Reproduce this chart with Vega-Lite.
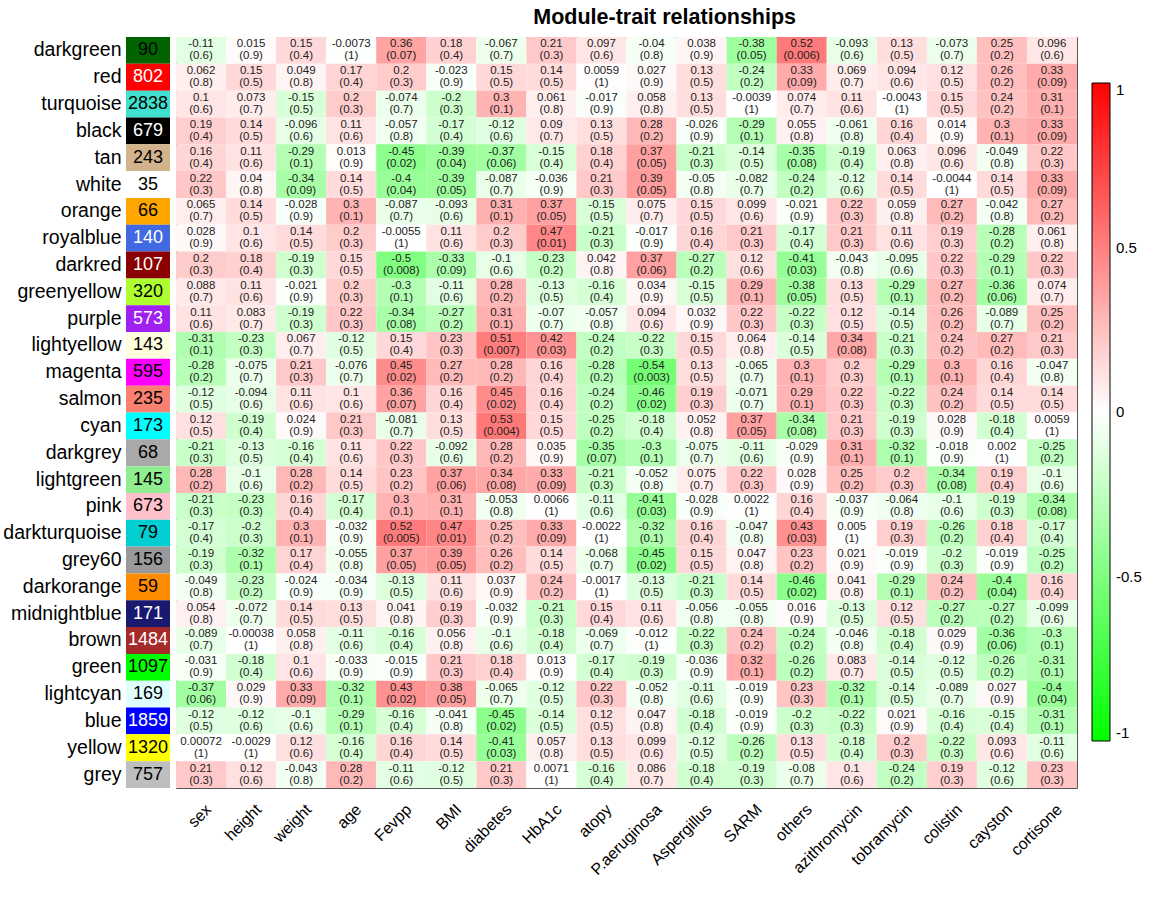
{
"$schema": "https://vega.github.io/schema/vega-lite/v6.json",
"background": "white",
"padding": {"left": 2, "top": 7, "right": 5, "bottom": 5},
"title": {"text": "Module-trait relationships", "fontSize": 21.5, "fontWeight": "bold", "font": "Liberation Sans", "anchor": "middle", "offset": 8, "dx": 92, "color": "black"},
"config": {"concat": {"spacing": 5}, "view": {"stroke": null}},
"datasets": {
"modules": [
{"module":"darkgreen","n":90},{"module":"red","n":802},{"module":"turquoise","n":2838},{"module":"black","n":679},{"module":"tan","n":243},{"module":"white","n":35},{"module":"orange","n":66},{"module":"royalblue","n":140},{"module":"darkred","n":107},{"module":"greenyellow","n":320},{"module":"purple","n":573},{"module":"lightyellow","n":143},{"module":"magenta","n":595},{"module":"salmon","n":235},{"module":"cyan","n":173},{"module":"darkgrey","n":68},{"module":"lightgreen","n":145},{"module":"pink","n":673},{"module":"darkturquoise","n":79},{"module":"grey60","n":156},{"module":"darkorange","n":59},{"module":"midnightblue","n":171},{"module":"brown","n":1484},{"module":"green","n":1097},{"module":"lightcyan","n":169},{"module":"blue","n":1859},{"module":"yellow","n":1320},{"module":"grey","n":757}
],
"cells": [
{"module":"darkgreen","trait":"sex","r":-0.11,"p":0.6},{"module":"darkgreen","trait":"height","r":0.015,"p":0.9},{"module":"darkgreen","trait":"weight","r":0.15,"p":0.4},{"module":"darkgreen","trait":"age","r":-0.0073,"p":1},{"module":"darkgreen","trait":"Fevpp","r":0.36,"p":0.07},{"module":"darkgreen","trait":"BMI","r":0.18,"p":0.4},{"module":"darkgreen","trait":"diabetes","r":-0.067,"p":0.7},{"module":"darkgreen","trait":"HbA1c","r":0.21,"p":0.3},{"module":"darkgreen","trait":"atopy","r":0.097,"p":0.6},{"module":"darkgreen","trait":"P.aeruginosa","r":-0.04,"p":0.8},{"module":"darkgreen","trait":"Aspergillus","r":0.038,"p":0.9},{"module":"darkgreen","trait":"SARM","r":-0.38,"p":0.05},{"module":"darkgreen","trait":"others","r":0.52,"p":0.006},{"module":"darkgreen","trait":"azithromycin","r":-0.093,"p":0.6},{"module":"darkgreen","trait":"tobramycin","r":0.13,"p":0.5},{"module":"darkgreen","trait":"colistin","r":-0.073,"p":0.7},{"module":"darkgreen","trait":"cayston","r":0.25,"p":0.2},{"module":"darkgreen","trait":"cortisone","r":0.096,"p":0.6},
{"module":"red","trait":"sex","r":0.062,"p":0.8},{"module":"red","trait":"height","r":0.15,"p":0.5},{"module":"red","trait":"weight","r":0.049,"p":0.8},{"module":"red","trait":"age","r":0.17,"p":0.4},{"module":"red","trait":"Fevpp","r":0.2,"p":0.3},{"module":"red","trait":"BMI","r":-0.023,"p":0.9},{"module":"red","trait":"diabetes","r":0.15,"p":0.5},{"module":"red","trait":"HbA1c","r":0.14,"p":0.5},{"module":"red","trait":"atopy","r":0.0059,"p":1},{"module":"red","trait":"P.aeruginosa","r":0.027,"p":0.9},{"module":"red","trait":"Aspergillus","r":0.13,"p":0.5},{"module":"red","trait":"SARM","r":-0.24,"p":0.2},{"module":"red","trait":"others","r":0.33,"p":0.09},{"module":"red","trait":"azithromycin","r":0.069,"p":0.7},{"module":"red","trait":"tobramycin","r":0.094,"p":0.6},{"module":"red","trait":"colistin","r":0.12,"p":0.5},{"module":"red","trait":"cayston","r":0.26,"p":0.2},{"module":"red","trait":"cortisone","r":0.33,"p":0.09},
{"module":"turquoise","trait":"sex","r":0.1,"p":0.6},{"module":"turquoise","trait":"height","r":0.073,"p":0.7},{"module":"turquoise","trait":"weight","r":-0.15,"p":0.5},{"module":"turquoise","trait":"age","r":0.2,"p":0.3},{"module":"turquoise","trait":"Fevpp","r":-0.074,"p":0.7},{"module":"turquoise","trait":"BMI","r":-0.2,"p":0.3},{"module":"turquoise","trait":"diabetes","r":0.3,"p":0.1},{"module":"turquoise","trait":"HbA1c","r":0.061,"p":0.8},{"module":"turquoise","trait":"atopy","r":-0.017,"p":0.9},{"module":"turquoise","trait":"P.aeruginosa","r":0.058,"p":0.8},{"module":"turquoise","trait":"Aspergillus","r":0.13,"p":0.5},{"module":"turquoise","trait":"SARM","r":-0.0039,"p":1},{"module":"turquoise","trait":"others","r":0.074,"p":0.7},{"module":"turquoise","trait":"azithromycin","r":0.11,"p":0.6},{"module":"turquoise","trait":"tobramycin","r":-0.0043,"p":1},{"module":"turquoise","trait":"colistin","r":0.15,"p":0.5},{"module":"turquoise","trait":"cayston","r":0.24,"p":0.2},{"module":"turquoise","trait":"cortisone","r":0.31,"p":0.1},
{"module":"black","trait":"sex","r":0.19,"p":0.4},{"module":"black","trait":"height","r":0.14,"p":0.5},{"module":"black","trait":"weight","r":-0.096,"p":0.6},{"module":"black","trait":"age","r":0.11,"p":0.6},{"module":"black","trait":"Fevpp","r":-0.057,"p":0.8},{"module":"black","trait":"BMI","r":-0.17,"p":0.4},{"module":"black","trait":"diabetes","r":-0.12,"p":0.6},{"module":"black","trait":"HbA1c","r":0.09,"p":0.7},{"module":"black","trait":"atopy","r":0.13,"p":0.5},{"module":"black","trait":"P.aeruginosa","r":0.28,"p":0.2},{"module":"black","trait":"Aspergillus","r":-0.026,"p":0.9},{"module":"black","trait":"SARM","r":-0.29,"p":0.1},{"module":"black","trait":"others","r":0.055,"p":0.8},{"module":"black","trait":"azithromycin","r":-0.061,"p":0.8},{"module":"black","trait":"tobramycin","r":0.16,"p":0.4},{"module":"black","trait":"colistin","r":0.014,"p":0.9},{"module":"black","trait":"cayston","r":0.3,"p":0.1},{"module":"black","trait":"cortisone","r":0.33,"p":0.09},
{"module":"tan","trait":"sex","r":0.16,"p":0.4},{"module":"tan","trait":"height","r":0.11,"p":0.6},{"module":"tan","trait":"weight","r":-0.29,"p":0.1},{"module":"tan","trait":"age","r":0.013,"p":0.9},{"module":"tan","trait":"Fevpp","r":-0.45,"p":0.02},{"module":"tan","trait":"BMI","r":-0.39,"p":0.04},{"module":"tan","trait":"diabetes","r":-0.37,"p":0.06},{"module":"tan","trait":"HbA1c","r":-0.15,"p":0.4},{"module":"tan","trait":"atopy","r":0.18,"p":0.4},{"module":"tan","trait":"P.aeruginosa","r":0.37,"p":0.05},{"module":"tan","trait":"Aspergillus","r":-0.21,"p":0.3},{"module":"tan","trait":"SARM","r":-0.14,"p":0.5},{"module":"tan","trait":"others","r":-0.35,"p":0.08},{"module":"tan","trait":"azithromycin","r":-0.19,"p":0.4},{"module":"tan","trait":"tobramycin","r":0.063,"p":0.8},{"module":"tan","trait":"colistin","r":0.096,"p":0.6},{"module":"tan","trait":"cayston","r":-0.049,"p":0.8},{"module":"tan","trait":"cortisone","r":0.22,"p":0.3},
{"module":"white","trait":"sex","r":0.22,"p":0.3},{"module":"white","trait":"height","r":0.04,"p":0.8},{"module":"white","trait":"weight","r":-0.34,"p":0.09},{"module":"white","trait":"age","r":0.14,"p":0.5},{"module":"white","trait":"Fevpp","r":-0.4,"p":0.04},{"module":"white","trait":"BMI","r":-0.39,"p":0.05},{"module":"white","trait":"diabetes","r":-0.087,"p":0.7},{"module":"white","trait":"HbA1c","r":-0.036,"p":0.9},{"module":"white","trait":"atopy","r":0.21,"p":0.3},{"module":"white","trait":"P.aeruginosa","r":0.39,"p":0.05},{"module":"white","trait":"Aspergillus","r":-0.05,"p":0.8},{"module":"white","trait":"SARM","r":-0.082,"p":0.7},{"module":"white","trait":"others","r":-0.24,"p":0.2},{"module":"white","trait":"azithromycin","r":-0.12,"p":0.6},{"module":"white","trait":"tobramycin","r":0.14,"p":0.5},{"module":"white","trait":"colistin","r":-0.0044,"p":1},{"module":"white","trait":"cayston","r":0.14,"p":0.5},{"module":"white","trait":"cortisone","r":0.33,"p":0.09},
{"module":"orange","trait":"sex","r":0.065,"p":0.7},{"module":"orange","trait":"height","r":0.14,"p":0.5},{"module":"orange","trait":"weight","r":-0.028,"p":0.9},{"module":"orange","trait":"age","r":0.3,"p":0.1},{"module":"orange","trait":"Fevpp","r":-0.087,"p":0.7},{"module":"orange","trait":"BMI","r":-0.093,"p":0.6},{"module":"orange","trait":"diabetes","r":0.31,"p":0.1},{"module":"orange","trait":"HbA1c","r":0.37,"p":0.05},{"module":"orange","trait":"atopy","r":-0.15,"p":0.5},{"module":"orange","trait":"P.aeruginosa","r":0.075,"p":0.7},{"module":"orange","trait":"Aspergillus","r":0.15,"p":0.5},{"module":"orange","trait":"SARM","r":0.099,"p":0.6},{"module":"orange","trait":"others","r":-0.021,"p":0.9},{"module":"orange","trait":"azithromycin","r":0.22,"p":0.3},{"module":"orange","trait":"tobramycin","r":0.059,"p":0.8},{"module":"orange","trait":"colistin","r":0.27,"p":0.2},{"module":"orange","trait":"cayston","r":-0.042,"p":0.8},{"module":"orange","trait":"cortisone","r":0.27,"p":0.2},
{"module":"royalblue","trait":"sex","r":0.028,"p":0.9},{"module":"royalblue","trait":"height","r":0.1,"p":0.6},{"module":"royalblue","trait":"weight","r":0.14,"p":0.5},{"module":"royalblue","trait":"age","r":0.2,"p":0.3},{"module":"royalblue","trait":"Fevpp","r":-0.0055,"p":1},{"module":"royalblue","trait":"BMI","r":0.11,"p":0.6},{"module":"royalblue","trait":"diabetes","r":0.2,"p":0.3},{"module":"royalblue","trait":"HbA1c","r":0.47,"p":0.01},{"module":"royalblue","trait":"atopy","r":-0.21,"p":0.3},{"module":"royalblue","trait":"P.aeruginosa","r":-0.017,"p":0.9},{"module":"royalblue","trait":"Aspergillus","r":0.16,"p":0.4},{"module":"royalblue","trait":"SARM","r":0.21,"p":0.3},{"module":"royalblue","trait":"others","r":-0.17,"p":0.4},{"module":"royalblue","trait":"azithromycin","r":0.21,"p":0.3},{"module":"royalblue","trait":"tobramycin","r":0.11,"p":0.6},{"module":"royalblue","trait":"colistin","r":0.19,"p":0.3},{"module":"royalblue","trait":"cayston","r":-0.28,"p":0.2},{"module":"royalblue","trait":"cortisone","r":0.061,"p":0.8},
{"module":"darkred","trait":"sex","r":0.2,"p":0.3},{"module":"darkred","trait":"height","r":0.18,"p":0.4},{"module":"darkred","trait":"weight","r":-0.19,"p":0.3},{"module":"darkred","trait":"age","r":0.15,"p":0.5},{"module":"darkred","trait":"Fevpp","r":-0.5,"p":0.008},{"module":"darkred","trait":"BMI","r":-0.33,"p":0.09},{"module":"darkred","trait":"diabetes","r":-0.1,"p":0.6},{"module":"darkred","trait":"HbA1c","r":-0.23,"p":0.2},{"module":"darkred","trait":"atopy","r":0.042,"p":0.8},{"module":"darkred","trait":"P.aeruginosa","r":0.37,"p":0.06},{"module":"darkred","trait":"Aspergillus","r":-0.27,"p":0.2},{"module":"darkred","trait":"SARM","r":0.12,"p":0.6},{"module":"darkred","trait":"others","r":-0.41,"p":0.03},{"module":"darkred","trait":"azithromycin","r":-0.043,"p":0.8},{"module":"darkred","trait":"tobramycin","r":-0.095,"p":0.6},{"module":"darkred","trait":"colistin","r":0.22,"p":0.3},{"module":"darkred","trait":"cayston","r":-0.29,"p":0.1},{"module":"darkred","trait":"cortisone","r":0.22,"p":0.3},
{"module":"greenyellow","trait":"sex","r":0.088,"p":0.7},{"module":"greenyellow","trait":"height","r":0.11,"p":0.6},{"module":"greenyellow","trait":"weight","r":-0.021,"p":0.9},{"module":"greenyellow","trait":"age","r":0.2,"p":0.3},{"module":"greenyellow","trait":"Fevpp","r":-0.3,"p":0.1},{"module":"greenyellow","trait":"BMI","r":-0.11,"p":0.6},{"module":"greenyellow","trait":"diabetes","r":0.28,"p":0.2},{"module":"greenyellow","trait":"HbA1c","r":-0.13,"p":0.5},{"module":"greenyellow","trait":"atopy","r":-0.16,"p":0.4},{"module":"greenyellow","trait":"P.aeruginosa","r":0.034,"p":0.9},{"module":"greenyellow","trait":"Aspergillus","r":-0.15,"p":0.5},{"module":"greenyellow","trait":"SARM","r":0.29,"p":0.1},{"module":"greenyellow","trait":"others","r":-0.38,"p":0.05},{"module":"greenyellow","trait":"azithromycin","r":0.13,"p":0.5},{"module":"greenyellow","trait":"tobramycin","r":-0.29,"p":0.1},{"module":"greenyellow","trait":"colistin","r":0.27,"p":0.2},{"module":"greenyellow","trait":"cayston","r":-0.36,"p":0.06},{"module":"greenyellow","trait":"cortisone","r":0.074,"p":0.7},
{"module":"purple","trait":"sex","r":0.11,"p":0.6},{"module":"purple","trait":"height","r":0.083,"p":0.7},{"module":"purple","trait":"weight","r":-0.19,"p":0.3},{"module":"purple","trait":"age","r":0.22,"p":0.3},{"module":"purple","trait":"Fevpp","r":-0.34,"p":0.08},{"module":"purple","trait":"BMI","r":-0.27,"p":0.2},{"module":"purple","trait":"diabetes","r":0.31,"p":0.1},{"module":"purple","trait":"HbA1c","r":-0.07,"p":0.7},{"module":"purple","trait":"atopy","r":-0.057,"p":0.8},{"module":"purple","trait":"P.aeruginosa","r":0.094,"p":0.6},{"module":"purple","trait":"Aspergillus","r":0.032,"p":0.9},{"module":"purple","trait":"SARM","r":0.22,"p":0.3},{"module":"purple","trait":"others","r":-0.22,"p":0.3},{"module":"purple","trait":"azithromycin","r":0.12,"p":0.5},{"module":"purple","trait":"tobramycin","r":-0.14,"p":0.5},{"module":"purple","trait":"colistin","r":0.26,"p":0.2},{"module":"purple","trait":"cayston","r":-0.089,"p":0.7},{"module":"purple","trait":"cortisone","r":0.25,"p":0.2},
{"module":"lightyellow","trait":"sex","r":-0.31,"p":0.1},{"module":"lightyellow","trait":"height","r":-0.23,"p":0.3},{"module":"lightyellow","trait":"weight","r":0.067,"p":0.7},{"module":"lightyellow","trait":"age","r":-0.12,"p":0.5},{"module":"lightyellow","trait":"Fevpp","r":0.15,"p":0.4},{"module":"lightyellow","trait":"BMI","r":0.23,"p":0.3},{"module":"lightyellow","trait":"diabetes","r":0.51,"p":0.007},{"module":"lightyellow","trait":"HbA1c","r":0.42,"p":0.03},{"module":"lightyellow","trait":"atopy","r":-0.24,"p":0.2},{"module":"lightyellow","trait":"P.aeruginosa","r":-0.22,"p":0.3},{"module":"lightyellow","trait":"Aspergillus","r":0.15,"p":0.5},{"module":"lightyellow","trait":"SARM","r":0.064,"p":0.8},{"module":"lightyellow","trait":"others","r":-0.14,"p":0.5},{"module":"lightyellow","trait":"azithromycin","r":0.34,"p":0.08},{"module":"lightyellow","trait":"tobramycin","r":-0.21,"p":0.3},{"module":"lightyellow","trait":"colistin","r":0.24,"p":0.2},{"module":"lightyellow","trait":"cayston","r":0.27,"p":0.2},{"module":"lightyellow","trait":"cortisone","r":0.21,"p":0.3},
{"module":"magenta","trait":"sex","r":-0.28,"p":0.2},{"module":"magenta","trait":"height","r":-0.075,"p":0.7},{"module":"magenta","trait":"weight","r":0.21,"p":0.3},{"module":"magenta","trait":"age","r":-0.076,"p":0.7},{"module":"magenta","trait":"Fevpp","r":0.45,"p":0.02},{"module":"magenta","trait":"BMI","r":0.27,"p":0.2},{"module":"magenta","trait":"diabetes","r":0.28,"p":0.2},{"module":"magenta","trait":"HbA1c","r":0.16,"p":0.4},{"module":"magenta","trait":"atopy","r":-0.28,"p":0.2},{"module":"magenta","trait":"P.aeruginosa","r":-0.54,"p":0.003},{"module":"magenta","trait":"Aspergillus","r":0.13,"p":0.5},{"module":"magenta","trait":"SARM","r":-0.065,"p":0.7},{"module":"magenta","trait":"others","r":0.3,"p":0.1},{"module":"magenta","trait":"azithromycin","r":0.2,"p":0.3},{"module":"magenta","trait":"tobramycin","r":-0.29,"p":0.1},{"module":"magenta","trait":"colistin","r":0.3,"p":0.1},{"module":"magenta","trait":"cayston","r":0.16,"p":0.4},{"module":"magenta","trait":"cortisone","r":-0.047,"p":0.8},
{"module":"salmon","trait":"sex","r":-0.12,"p":0.5},{"module":"salmon","trait":"height","r":-0.094,"p":0.6},{"module":"salmon","trait":"weight","r":0.11,"p":0.6},{"module":"salmon","trait":"age","r":0.1,"p":0.6},{"module":"salmon","trait":"Fevpp","r":0.36,"p":0.07},{"module":"salmon","trait":"BMI","r":0.16,"p":0.4},{"module":"salmon","trait":"diabetes","r":0.45,"p":0.02},{"module":"salmon","trait":"HbA1c","r":0.16,"p":0.4},{"module":"salmon","trait":"atopy","r":-0.24,"p":0.2},{"module":"salmon","trait":"P.aeruginosa","r":-0.46,"p":0.02},{"module":"salmon","trait":"Aspergillus","r":0.19,"p":0.3},{"module":"salmon","trait":"SARM","r":-0.071,"p":0.7},{"module":"salmon","trait":"others","r":0.29,"p":0.1},{"module":"salmon","trait":"azithromycin","r":0.22,"p":0.3},{"module":"salmon","trait":"tobramycin","r":-0.22,"p":0.3},{"module":"salmon","trait":"colistin","r":0.24,"p":0.2},{"module":"salmon","trait":"cayston","r":0.14,"p":0.5},{"module":"salmon","trait":"cortisone","r":0.14,"p":0.5},
{"module":"cyan","trait":"sex","r":0.12,"p":0.5},{"module":"cyan","trait":"height","r":-0.19,"p":0.4},{"module":"cyan","trait":"weight","r":0.024,"p":0.9},{"module":"cyan","trait":"age","r":0.21,"p":0.3},{"module":"cyan","trait":"Fevpp","r":-0.081,"p":0.7},{"module":"cyan","trait":"BMI","r":0.13,"p":0.5},{"module":"cyan","trait":"diabetes","r":0.53,"p":0.004},{"module":"cyan","trait":"HbA1c","r":0.15,"p":0.5},{"module":"cyan","trait":"atopy","r":-0.25,"p":0.2},{"module":"cyan","trait":"P.aeruginosa","r":-0.18,"p":0.4},{"module":"cyan","trait":"Aspergillus","r":0.052,"p":0.8},{"module":"cyan","trait":"SARM","r":0.37,"p":0.05},{"module":"cyan","trait":"others","r":-0.34,"p":0.08},{"module":"cyan","trait":"azithromycin","r":0.21,"p":0.3},{"module":"cyan","trait":"tobramycin","r":-0.19,"p":0.3},{"module":"cyan","trait":"colistin","r":0.028,"p":0.9},{"module":"cyan","trait":"cayston","r":-0.18,"p":0.4},{"module":"cyan","trait":"cortisone","r":0.0059,"p":1},
{"module":"darkgrey","trait":"sex","r":-0.21,"p":0.3},{"module":"darkgrey","trait":"height","r":-0.13,"p":0.5},{"module":"darkgrey","trait":"weight","r":-0.16,"p":0.4},{"module":"darkgrey","trait":"age","r":0.11,"p":0.6},{"module":"darkgrey","trait":"Fevpp","r":0.22,"p":0.3},{"module":"darkgrey","trait":"BMI","r":-0.092,"p":0.6},{"module":"darkgrey","trait":"diabetes","r":0.28,"p":0.2},{"module":"darkgrey","trait":"HbA1c","r":0.035,"p":0.9},{"module":"darkgrey","trait":"atopy","r":-0.35,"p":0.07},{"module":"darkgrey","trait":"P.aeruginosa","r":-0.3,"p":0.1},{"module":"darkgrey","trait":"Aspergillus","r":-0.075,"p":0.7},{"module":"darkgrey","trait":"SARM","r":-0.11,"p":0.6},{"module":"darkgrey","trait":"others","r":-0.029,"p":0.9},{"module":"darkgrey","trait":"azithromycin","r":0.31,"p":0.1},{"module":"darkgrey","trait":"tobramycin","r":-0.32,"p":0.1},{"module":"darkgrey","trait":"colistin","r":-0.018,"p":0.9},{"module":"darkgrey","trait":"cayston","r":0.002,"p":1},{"module":"darkgrey","trait":"cortisone","r":-0.25,"p":0.2},
{"module":"lightgreen","trait":"sex","r":0.28,"p":0.2},{"module":"lightgreen","trait":"height","r":-0.1,"p":0.6},{"module":"lightgreen","trait":"weight","r":0.28,"p":0.2},{"module":"lightgreen","trait":"age","r":0.14,"p":0.5},{"module":"lightgreen","trait":"Fevpp","r":0.23,"p":0.2},{"module":"lightgreen","trait":"BMI","r":0.37,"p":0.06},{"module":"lightgreen","trait":"diabetes","r":0.34,"p":0.08},{"module":"lightgreen","trait":"HbA1c","r":0.33,"p":0.09},{"module":"lightgreen","trait":"atopy","r":-0.21,"p":0.3},{"module":"lightgreen","trait":"P.aeruginosa","r":-0.052,"p":0.8},{"module":"lightgreen","trait":"Aspergillus","r":0.075,"p":0.7},{"module":"lightgreen","trait":"SARM","r":0.22,"p":0.3},{"module":"lightgreen","trait":"others","r":0.028,"p":0.9},{"module":"lightgreen","trait":"azithromycin","r":0.25,"p":0.2},{"module":"lightgreen","trait":"tobramycin","r":0.2,"p":0.3},{"module":"lightgreen","trait":"colistin","r":-0.34,"p":0.08},{"module":"lightgreen","trait":"cayston","r":0.19,"p":0.4},{"module":"lightgreen","trait":"cortisone","r":-0.1,"p":0.6},
{"module":"pink","trait":"sex","r":-0.21,"p":0.3},{"module":"pink","trait":"height","r":-0.23,"p":0.3},{"module":"pink","trait":"weight","r":0.16,"p":0.4},{"module":"pink","trait":"age","r":-0.17,"p":0.4},{"module":"pink","trait":"Fevpp","r":0.3,"p":0.1},{"module":"pink","trait":"BMI","r":0.31,"p":0.1},{"module":"pink","trait":"diabetes","r":-0.053,"p":0.8},{"module":"pink","trait":"HbA1c","r":0.0066,"p":1},{"module":"pink","trait":"atopy","r":-0.11,"p":0.6},{"module":"pink","trait":"P.aeruginosa","r":-0.41,"p":0.03},{"module":"pink","trait":"Aspergillus","r":-0.028,"p":0.9},{"module":"pink","trait":"SARM","r":0.0022,"p":1},{"module":"pink","trait":"others","r":0.16,"p":0.4},{"module":"pink","trait":"azithromycin","r":-0.037,"p":0.9},{"module":"pink","trait":"tobramycin","r":-0.064,"p":0.8},{"module":"pink","trait":"colistin","r":-0.1,"p":0.6},{"module":"pink","trait":"cayston","r":-0.19,"p":0.3},{"module":"pink","trait":"cortisone","r":-0.34,"p":0.08},
{"module":"darkturquoise","trait":"sex","r":-0.17,"p":0.4},{"module":"darkturquoise","trait":"height","r":-0.2,"p":0.3},{"module":"darkturquoise","trait":"weight","r":0.3,"p":0.1},{"module":"darkturquoise","trait":"age","r":-0.032,"p":0.9},{"module":"darkturquoise","trait":"Fevpp","r":0.52,"p":0.005},{"module":"darkturquoise","trait":"BMI","r":0.47,"p":0.01},{"module":"darkturquoise","trait":"diabetes","r":0.25,"p":0.2},{"module":"darkturquoise","trait":"HbA1c","r":0.33,"p":0.09},{"module":"darkturquoise","trait":"atopy","r":-0.0022,"p":1},{"module":"darkturquoise","trait":"P.aeruginosa","r":-0.32,"p":0.1},{"module":"darkturquoise","trait":"Aspergillus","r":0.16,"p":0.4},{"module":"darkturquoise","trait":"SARM","r":-0.047,"p":0.8},{"module":"darkturquoise","trait":"others","r":0.43,"p":0.03},{"module":"darkturquoise","trait":"azithromycin","r":0.005,"p":1},{"module":"darkturquoise","trait":"tobramycin","r":0.19,"p":0.3},{"module":"darkturquoise","trait":"colistin","r":-0.26,"p":0.2},{"module":"darkturquoise","trait":"cayston","r":0.18,"p":0.4},{"module":"darkturquoise","trait":"cortisone","r":-0.17,"p":0.4},
{"module":"grey60","trait":"sex","r":-0.19,"p":0.3},{"module":"grey60","trait":"height","r":-0.32,"p":0.1},{"module":"grey60","trait":"weight","r":0.17,"p":0.4},{"module":"grey60","trait":"age","r":-0.055,"p":0.8},{"module":"grey60","trait":"Fevpp","r":0.37,"p":0.05},{"module":"grey60","trait":"BMI","r":0.39,"p":0.05},{"module":"grey60","trait":"diabetes","r":0.26,"p":0.2},{"module":"grey60","trait":"HbA1c","r":0.14,"p":0.5},{"module":"grey60","trait":"atopy","r":-0.068,"p":0.7},{"module":"grey60","trait":"P.aeruginosa","r":-0.45,"p":0.02},{"module":"grey60","trait":"Aspergillus","r":0.15,"p":0.5},{"module":"grey60","trait":"SARM","r":0.047,"p":0.8},{"module":"grey60","trait":"others","r":0.23,"p":0.2},{"module":"grey60","trait":"azithromycin","r":0.021,"p":0.9},{"module":"grey60","trait":"tobramycin","r":-0.019,"p":0.9},{"module":"grey60","trait":"colistin","r":-0.2,"p":0.3},{"module":"grey60","trait":"cayston","r":-0.019,"p":0.9},{"module":"grey60","trait":"cortisone","r":-0.25,"p":0.2},
{"module":"darkorange","trait":"sex","r":-0.049,"p":0.8},{"module":"darkorange","trait":"height","r":-0.23,"p":0.2},{"module":"darkorange","trait":"weight","r":-0.024,"p":0.9},{"module":"darkorange","trait":"age","r":-0.034,"p":0.9},{"module":"darkorange","trait":"Fevpp","r":-0.13,"p":0.5},{"module":"darkorange","trait":"BMI","r":0.11,"p":0.6},{"module":"darkorange","trait":"diabetes","r":0.037,"p":0.9},{"module":"darkorange","trait":"HbA1c","r":0.24,"p":0.2},{"module":"darkorange","trait":"atopy","r":-0.0017,"p":1},{"module":"darkorange","trait":"P.aeruginosa","r":-0.13,"p":0.5},{"module":"darkorange","trait":"Aspergillus","r":-0.21,"p":0.3},{"module":"darkorange","trait":"SARM","r":0.14,"p":0.5},{"module":"darkorange","trait":"others","r":-0.46,"p":0.02},{"module":"darkorange","trait":"azithromycin","r":0.041,"p":0.8},{"module":"darkorange","trait":"tobramycin","r":-0.29,"p":0.1},{"module":"darkorange","trait":"colistin","r":0.24,"p":0.2},{"module":"darkorange","trait":"cayston","r":-0.4,"p":0.04},{"module":"darkorange","trait":"cortisone","r":0.16,"p":0.4},
{"module":"midnightblue","trait":"sex","r":0.054,"p":0.8},{"module":"midnightblue","trait":"height","r":-0.072,"p":0.7},{"module":"midnightblue","trait":"weight","r":0.14,"p":0.5},{"module":"midnightblue","trait":"age","r":0.13,"p":0.5},{"module":"midnightblue","trait":"Fevpp","r":0.041,"p":0.8},{"module":"midnightblue","trait":"BMI","r":0.19,"p":0.3},{"module":"midnightblue","trait":"diabetes","r":-0.032,"p":0.9},{"module":"midnightblue","trait":"HbA1c","r":-0.21,"p":0.3},{"module":"midnightblue","trait":"atopy","r":0.15,"p":0.4},{"module":"midnightblue","trait":"P.aeruginosa","r":0.11,"p":0.6},{"module":"midnightblue","trait":"Aspergillus","r":-0.056,"p":0.8},{"module":"midnightblue","trait":"SARM","r":-0.055,"p":0.8},{"module":"midnightblue","trait":"others","r":0.016,"p":0.9},{"module":"midnightblue","trait":"azithromycin","r":-0.13,"p":0.5},{"module":"midnightblue","trait":"tobramycin","r":0.12,"p":0.5},{"module":"midnightblue","trait":"colistin","r":-0.27,"p":0.2},{"module":"midnightblue","trait":"cayston","r":-0.27,"p":0.2},{"module":"midnightblue","trait":"cortisone","r":-0.099,"p":0.6},
{"module":"brown","trait":"sex","r":-0.089,"p":0.7},{"module":"brown","trait":"height","r":-0.00038,"p":1},{"module":"brown","trait":"weight","r":0.058,"p":0.8},{"module":"brown","trait":"age","r":-0.11,"p":0.6},{"module":"brown","trait":"Fevpp","r":-0.16,"p":0.4},{"module":"brown","trait":"BMI","r":0.056,"p":0.8},{"module":"brown","trait":"diabetes","r":-0.1,"p":0.6},{"module":"brown","trait":"HbA1c","r":-0.18,"p":0.4},{"module":"brown","trait":"atopy","r":-0.069,"p":0.7},{"module":"brown","trait":"P.aeruginosa","r":-0.012,"p":1},{"module":"brown","trait":"Aspergillus","r":-0.22,"p":0.3},{"module":"brown","trait":"SARM","r":0.24,"p":0.2},{"module":"brown","trait":"others","r":-0.24,"p":0.2},{"module":"brown","trait":"azithromycin","r":-0.046,"p":0.8},{"module":"brown","trait":"tobramycin","r":-0.18,"p":0.4},{"module":"brown","trait":"colistin","r":0.029,"p":0.9},{"module":"brown","trait":"cayston","r":-0.36,"p":0.06},{"module":"brown","trait":"cortisone","r":-0.3,"p":0.1},
{"module":"green","trait":"sex","r":-0.031,"p":0.9},{"module":"green","trait":"height","r":-0.18,"p":0.4},{"module":"green","trait":"weight","r":0.1,"p":0.6},{"module":"green","trait":"age","r":-0.033,"p":0.9},{"module":"green","trait":"Fevpp","r":-0.015,"p":0.9},{"module":"green","trait":"BMI","r":0.21,"p":0.3},{"module":"green","trait":"diabetes","r":0.18,"p":0.4},{"module":"green","trait":"HbA1c","r":0.013,"p":0.9},{"module":"green","trait":"atopy","r":-0.17,"p":0.4},{"module":"green","trait":"P.aeruginosa","r":-0.19,"p":0.3},{"module":"green","trait":"Aspergillus","r":-0.036,"p":0.9},{"module":"green","trait":"SARM","r":0.32,"p":0.1},{"module":"green","trait":"others","r":-0.26,"p":0.2},{"module":"green","trait":"azithromycin","r":0.083,"p":0.7},{"module":"green","trait":"tobramycin","r":-0.14,"p":0.5},{"module":"green","trait":"colistin","r":-0.12,"p":0.5},{"module":"green","trait":"cayston","r":-0.26,"p":0.2},{"module":"green","trait":"cortisone","r":-0.31,"p":0.1},
{"module":"lightcyan","trait":"sex","r":-0.37,"p":0.06},{"module":"lightcyan","trait":"height","r":0.029,"p":0.9},{"module":"lightcyan","trait":"weight","r":0.33,"p":0.09},{"module":"lightcyan","trait":"age","r":-0.32,"p":0.1},{"module":"lightcyan","trait":"Fevpp","r":0.43,"p":0.02},{"module":"lightcyan","trait":"BMI","r":0.38,"p":0.05},{"module":"lightcyan","trait":"diabetes","r":-0.065,"p":0.7},{"module":"lightcyan","trait":"HbA1c","r":-0.12,"p":0.5},{"module":"lightcyan","trait":"atopy","r":0.22,"p":0.3},{"module":"lightcyan","trait":"P.aeruginosa","r":-0.052,"p":0.8},{"module":"lightcyan","trait":"Aspergillus","r":-0.11,"p":0.6},{"module":"lightcyan","trait":"SARM","r":-0.019,"p":0.9},{"module":"lightcyan","trait":"others","r":0.23,"p":0.3},{"module":"lightcyan","trait":"azithromycin","r":-0.32,"p":0.1},{"module":"lightcyan","trait":"tobramycin","r":-0.14,"p":0.5},{"module":"lightcyan","trait":"colistin","r":-0.089,"p":0.7},{"module":"lightcyan","trait":"cayston","r":0.027,"p":0.9},{"module":"lightcyan","trait":"cortisone","r":-0.4,"p":0.04},
{"module":"blue","trait":"sex","r":-0.12,"p":0.5},{"module":"blue","trait":"height","r":-0.12,"p":0.6},{"module":"blue","trait":"weight","r":-0.1,"p":0.6},{"module":"blue","trait":"age","r":-0.29,"p":0.1},{"module":"blue","trait":"Fevpp","r":-0.16,"p":0.4},{"module":"blue","trait":"BMI","r":-0.041,"p":0.8},{"module":"blue","trait":"diabetes","r":-0.45,"p":0.02},{"module":"blue","trait":"HbA1c","r":-0.14,"p":0.5},{"module":"blue","trait":"atopy","r":0.12,"p":0.5},{"module":"blue","trait":"P.aeruginosa","r":0.047,"p":0.8},{"module":"blue","trait":"Aspergillus","r":-0.18,"p":0.4},{"module":"blue","trait":"SARM","r":-0.019,"p":0.9},{"module":"blue","trait":"others","r":-0.2,"p":0.3},{"module":"blue","trait":"azithromycin","r":-0.22,"p":0.3},{"module":"blue","trait":"tobramycin","r":0.021,"p":0.9},{"module":"blue","trait":"colistin","r":-0.16,"p":0.4},{"module":"blue","trait":"cayston","r":-0.15,"p":0.4},{"module":"blue","trait":"cortisone","r":-0.31,"p":0.1},
{"module":"yellow","trait":"sex","r":0.00072,"p":1},{"module":"yellow","trait":"height","r":-0.0029,"p":1},{"module":"yellow","trait":"weight","r":0.12,"p":0.6},{"module":"yellow","trait":"age","r":-0.16,"p":0.4},{"module":"yellow","trait":"Fevpp","r":0.16,"p":0.4},{"module":"yellow","trait":"BMI","r":0.14,"p":0.5},{"module":"yellow","trait":"diabetes","r":-0.41,"p":0.03},{"module":"yellow","trait":"HbA1c","r":0.057,"p":0.8},{"module":"yellow","trait":"atopy","r":0.13,"p":0.5},{"module":"yellow","trait":"P.aeruginosa","r":0.099,"p":0.6},{"module":"yellow","trait":"Aspergillus","r":-0.12,"p":0.5},{"module":"yellow","trait":"SARM","r":-0.26,"p":0.2},{"module":"yellow","trait":"others","r":0.13,"p":0.5},{"module":"yellow","trait":"azithromycin","r":-0.18,"p":0.4},{"module":"yellow","trait":"tobramycin","r":0.2,"p":0.3},{"module":"yellow","trait":"colistin","r":-0.22,"p":0.3},{"module":"yellow","trait":"cayston","r":0.093,"p":0.6},{"module":"yellow","trait":"cortisone","r":-0.11,"p":0.6},
{"module":"grey","trait":"sex","r":0.21,"p":0.3},{"module":"grey","trait":"height","r":0.12,"p":0.6},{"module":"grey","trait":"weight","r":-0.043,"p":0.8},{"module":"grey","trait":"age","r":0.28,"p":0.2},{"module":"grey","trait":"Fevpp","r":-0.11,"p":0.6},{"module":"grey","trait":"BMI","r":-0.12,"p":0.5},{"module":"grey","trait":"diabetes","r":0.21,"p":0.3},{"module":"grey","trait":"HbA1c","r":0.0071,"p":1},{"module":"grey","trait":"atopy","r":-0.16,"p":0.4},{"module":"grey","trait":"P.aeruginosa","r":0.086,"p":0.7},{"module":"grey","trait":"Aspergillus","r":-0.18,"p":0.4},{"module":"grey","trait":"SARM","r":-0.19,"p":0.3},{"module":"grey","trait":"others","r":-0.08,"p":0.7},{"module":"grey","trait":"azithromycin","r":0.1,"p":0.6},{"module":"grey","trait":"tobramycin","r":-0.24,"p":0.2},{"module":"grey","trait":"colistin","r":0.19,"p":0.3},{"module":"grey","trait":"cayston","r":-0.12,"p":0.6},{"module":"grey","trait":"cortisone","r":0.23,"p":0.3}
]
},
"hconcat": [
{
"width": 44, "height": 751,
"data": {"name": "modules"},
"view": {"stroke": null},
"encoding": {
"y": {"field": "module", "type": "nominal", "sort": null, "axis": {"title": null, "ticks": false, "domain": false, "labelFontSize": 19.5, "labelPadding": 5, "labelFont": "Liberation Sans", "labelColor": "black"}}
},
"layer": [
{"mark": {"type": "rect"}, "encoding": {"fill": {"field": "module", "type": "nominal", "legend": null, "scale": {"domain": ["darkgreen","red","turquoise","black","tan","white","orange","royalblue","darkred","greenyellow","purple","lightyellow","magenta","salmon","cyan","darkgrey","lightgreen","pink","darkturquoise","grey60","darkorange","midnightblue","brown","green","lightcyan","blue","yellow","grey"], "range": ["#006400","#FF0000","#40E0D0","#000000","#D2B48C","#FFFFFF","#FFA500","#4169E1","#8B0000","#ADFF2F","#A020F0","#FFFFE0","#FF00FF","#FA8072","#00FFFF","#A9A9A9","#90EE90","#FFC0CB","#00CED1","#999999","#FF8C00","#191970","#A52A2A","#00FF00","#E0FFFF","#0000FF","#FFFF00","#BEBEBE"]}}}},
{"mark": {"type": "text", "fontSize": 18, "font": "Liberation Sans"}, "encoding": {"text": {"field": "n", "type": "nominal"}, "color": {"condition": {"test": "indexof(['red','black','royalblue','darkred','purple','midnightblue','brown','blue'], datum.module) >= 0", "value": "white"}, "value": "black"}}}
]
},
{
"width": 901, "height": 751,
"data": {"name": "cells"},
"view": {"stroke": "#555555", "strokeWidth": 1},
"encoding": {
"x": {"field": "trait", "type": "nominal", "sort": null, "axis": {"title": null, "ticks": false, "domain": false, "labelAngle": -45, "labelFontSize": 16, "labelFont": "Liberation Sans", "labelColor": "black", "labelPadding": 13, "labelOffset": 2}},
"y": {"field": "module", "type": "nominal", "sort": null, "axis": null}
},
"layer": [
{"mark": {"type": "rect"}, "encoding": {"fill": {"field": "r", "type": "quantitative", "scale": {"domain": [-1, 0, 1], "range": ["#00FF00", "#FFFFFF", "#FF0000"], "interpolate": "rgb"}, "legend": {"orient": "none", "legendX": 916, "legendY": 46, "direction": "vertical", "gradientLength": 658, "gradientThickness": 18, "title": null, "values": [1, 0.5, 0, -0.5, -1], "labelExpr": "'' + datum.value", "labelFontSize": 15, "labelFont": "Liberation Sans", "labelColor": "black", "gradientStrokeColor": "black", "gradientStrokeWidth": 1, "labelOffset": 6, "labelOverlap": false}}}},
{"mark": {"type": "text", "fontSize": 11.5, "font": "Liberation Sans", "color": "#222222", "dy": -6}, "encoding": {"text": {"field": "r", "type": "nominal"}}},
{"mark": {"type": "text", "fontSize": 11.5, "font": "Liberation Sans", "color": "#222222", "dy": 6, "text": {"expr": "'(' + datum.p + ')'"}}, "encoding": {}}
]
}
]
}
